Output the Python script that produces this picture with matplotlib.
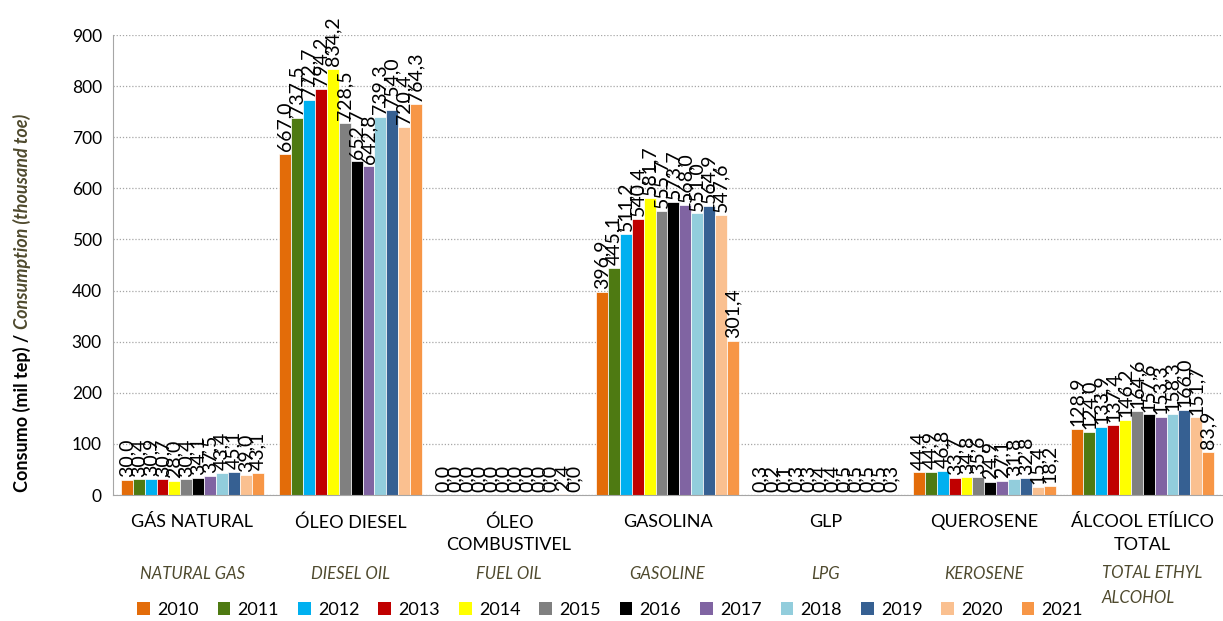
import numpy as np
import matplotlib
matplotlib.use('Agg')
import matplotlib.pyplot as plt
from matplotlib.patches import Patch

plt.rcParams['font.family'] = ['Lato', 'DejaVu Sans']

CATEGORIES_PT = ['GÁS NATURAL', 'ÓLEO DIESEL', 'ÓLEO\nCOMBUSTIVEL', 'GASOLINA', 'GLP',
                 'QUEROSENE', 'ÁLCOOL ETÍLICO\nTOTAL']
CATEGORIES_EN = ['NATURAL GAS', 'DIESEL OIL', 'FUEL OIL', 'GASOLINE', 'LPG',
                 'KEROSENE', 'TOTAL ETHYL\nALCOHOL']
YEARS = ['2010', '2011', '2012', '2013', '2014', '2015',
         '2016', '2017', '2018', '2019', '2020', '2021']

# values per category, one per year (mil tep)
natural_gas = [30.0, 30.4, 30.9, 30.7, 28.0, 30.4, 34.1, 37.5, 43.4, 45.1, 39.0, 43.1]
diesel_oil = [667.0, 737.5, 772.7, 794.2, 834.2, 728.5, 652.7, 642.8, 739.3, 754.0, 720.4, 764.3]
fuel_oil = [0.0, 0.0, 0.0, 0.0, 0.0, 0.0, 0.0, 0.0, 0.0, 0.0, 2.4, 0.0]
gasoline = [396.9, 445.1, 511.2, 540.4, 581.7, 555.7, 573.7, 568.0, 551.0, 564.9, 547.6, 301.4]
lpg = [0.3, 0.2, 0.1, 0.3, 0.3, 0.4, 0.4, 0.5, 0.5, 0.5, 0.5, 0.3]
kerosene = [44.4, 44.9, 46.8, 33.7, 34.8, 35.6, 24.9, 27.1, 31.8, 32.8, 15.4, 18.2]
ethyl_alcohol = [128.9, 124.0, 133.9, 137.4, 146.2, 164.6, 157.6, 153.3, 158.3, 166.0, 151.7, 83.9]

COLORS = ['#E36C09', '#4E7A12', '#00B0F0', '#C00000', '#FFFF00', '#808080',
          '#000000', '#8064A2', '#92CDDC', '#366092', '#FAC090', '#F79646']
EN_COLOR = '#4F4A2E'

data = np.array([natural_gas, diesel_oil, fuel_oil, gasoline, lpg, kerosene, ethyl_alcohol])

fig = plt.figure(figsize=(12.23, 6.21), dpi=100)
ax = fig.add_axes([113 / 1223, 126 / 621, 1109 / 1223, 460 / 621])

n_groups, n_years = data.shape
x = np.arange(n_groups)
width = 0.9 / n_years

for j in range(n_years):
    pos = x - 0.45 + width * (j + 0.5)
    bars = ax.bar(pos, data[:, j], width, color=COLORS[j], edgecolor='white', linewidth=0.5)
    labels = [f"{v:.1f}".replace('.', ',') for v in data[:, j]]
    ax.bar_label(bars, labels=labels, rotation=90, padding=2, fontsize=14)

ax.set_xlim(-0.5, n_groups - 0.5)
ax.set_ylim(0, 900)
ax.set_yticks(np.arange(0, 901, 100))
ax.tick_params(axis='y', labelsize=12.5, length=0, pad=8)
ax.tick_params(axis='x', length=0, pad=14)
ax.set_xticks(x)
ax.set_xticklabels(CATEGORIES_PT, fontsize=13, linespacing=1.5)
ax.yaxis.grid(True, linestyle=(0, (1, 1.5)), color='#A6A6A6', linewidth=0.9)
ax.set_axisbelow(True)
for s in ['top', 'right']:
    ax.spines[s].set_visible(False)
ax.spines['left'].set_color('#A6A6A6')
ax.spines['bottom'].set_color('#A6A6A6')

for i, lab in enumerate(CATEGORIES_EN):
    xf = (113 + (i + 0.5) * 1109 / n_groups) / 1223
    if i == n_groups - 1:
        fig.text(1102 / 1223, 1 - 565 / 621, lab, ha='left', va='top', style='italic',
                 color=EN_COLOR, fontsize=12, linespacing=1.7)
    else:
        fig.text(xf, 1 - 574 / 621, lab, ha='center', va='center', style='italic',
                 color=EN_COLOR, fontsize=12)

# two-part rotated y label
t1 = fig.text(22 / 1223, 1 - 492 / 621, 'Consumo (mil tep) / ', rotation=90,
              ha='center', va='bottom', fontsize=13, fontweight='bold')
fig.canvas.draw()
bb = t1.get_window_extent()
fig.text(22 / 1223, bb.y1 / fig.bbox.height, 'Consumption (thousand toe)', rotation=90,
         ha='center', va='bottom', fontsize=13, fontweight='bold', style='italic', color=EN_COLOR)

handles = [Patch(facecolor=c, edgecolor='none') for c in COLORS]
fig.legend(handles, YEARS, loc='center', bbox_to_anchor=(0.499, 1 - 610 / 621), ncol=12,
           frameon=False, fontsize=13, handlelength=0.7, handleheight=0.7,
           handletextpad=0.4, columnspacing=1.05)

fig.savefig('out.png', dpi=100)
